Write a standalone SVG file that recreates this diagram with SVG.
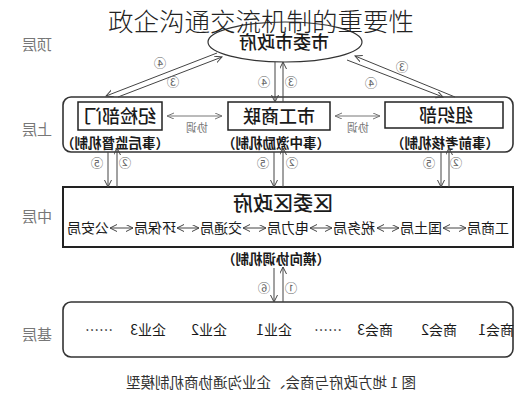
<svg xmlns="http://www.w3.org/2000/svg" width="527" height="400" viewBox="0 0 527 400">
<style>
  text { font-family: "Noto Sans CJK SC", "Noto Sans", sans-serif; }
  .box { fill: #fff; stroke: #222; stroke-width: 1.5; }
  .frame { fill: #fff; stroke: #333; stroke-width: 1.6; }
  .ln { fill: none; stroke: #444; stroke-width: 1; }
  .lng { fill: none; stroke: #777; stroke-width: 1; }
  .name { font-size: 18px; fill: #1a1a1a; text-anchor: middle; font-weight: 500; }
  .sub { font-size: 13.5px; fill: #1a1a1a; text-anchor: middle; font-weight: bold; }
  .item { font-size: 14px; fill: #1a1a1a; text-anchor: middle; }
  .lvl { font-size: 15px; fill: #777; text-anchor: middle; }
  .num { font-size: 12.5px; fill: #666; text-anchor: middle; }
  .xt { font-size: 11px; fill: #777; text-anchor: middle; }
</style>
<defs>
  <marker id="ah" markerUnits="userSpaceOnUse" markerWidth="9" markerHeight="8" refX="7" refY="3.5" orient="auto-start-reverse">
    <path d="M0,0 L7,3.5 L0,7" fill="none" stroke="#444" stroke-width="1"/>
  </marker>
  <marker id="ahg" markerUnits="userSpaceOnUse" markerWidth="9" markerHeight="8" refX="7" refY="3" orient="auto-start-reverse">
    <path d="M0,0 L7,3 L0,6" fill="none" stroke="#777" stroke-width="1"/>
  </marker>
</defs>
<rect width="527" height="400" fill="#fff"/>

<g id="level-labels">
  <text class="lvl" x="37" y="50" transform="matrix(-1 0 0 1 74 0)">顶层</text>
  <text class="lvl" x="37" y="135" transform="matrix(-1 0 0 1 74 0)">上层</text>
  <text class="lvl" x="37" y="222" transform="matrix(-1 0 0 1 74 0)">中层</text>
  <text class="lvl" x="37" y="340" transform="matrix(-1 0 0 1 74 0)">基层</text>
</g>

<g id="top-node">
  <ellipse cx="285" cy="42" rx="77" ry="20" fill="#fff" stroke="#333" stroke-width="1.2"/>
  <text class="name" x="284" y="49" font-size="19" font-weight="bold" transform="matrix(-1 0 0 1 568 0)">市委市政府</text>
</g>

<g id="upper-node">
  <rect class="frame" x="63" y="97" width="450" height="55" rx="8"/>
  <g id="jijian">
    <rect class="box" x="78" y="102" width="84" height="28"/>
    <text class="name" x="120" y="123" transform="matrix(-1 0 0 1 240 0)">纪检部门</text>
    <text class="sub" x="115" y="148" transform="matrix(-1 0 0 1 230 0)">（事后监督机制）</text>
  </g>
  <g id="gongshanglian">
    <rect class="box" x="228" y="102" width="102" height="28"/>
    <text class="name" x="279" y="123" transform="matrix(-1 0 0 1 558 0)">市工商联</text>
    <text class="sub" x="276" y="148" transform="matrix(-1 0 0 1 552 0)">（事中激励机制）</text>
  </g>
  <g id="zuzhibu">
    <rect class="box" x="385" y="102" width="118" height="26"/>
    <text class="name" x="446" y="122" transform="matrix(-1 0 0 1 892 0)">组织部</text>
    <text class="sub" x="445" y="148" transform="matrix(-1 0 0 1 890 0)">（事前考核机制）</text>
  </g>
  <line class="lng" x1="167" y1="116" x2="222" y2="116" marker-start="url(#ahg)" marker-end="url(#ahg)"/>
  <line class="lng" x1="335" y1="116" x2="380" y2="116" marker-start="url(#ahg)" marker-end="url(#ahg)"/>
  <text class="xt" x="197" y="132" transform="matrix(-1 0 0 1 394 0)">协调</text>
  <text class="xt" x="358" y="132" transform="matrix(-1 0 0 1 716 0)">协调</text>
</g>

<g id="middle-node">
  <rect x="63" y="187" width="450" height="60" fill="#fff" stroke="#222" stroke-width="2"/>
  <text x="283" y="211" font-size="20" fill="#1a1a1a" text-anchor="middle" font-weight="500" transform="matrix(-1 0 0 1 566 0)">区委区政府</text>
  <text class="item" x="88" y="233" transform="matrix(-1 0 0 1 176 0)">公安局</text>
  <text class="item" x="155" y="233" transform="matrix(-1 0 0 1 310 0)">环保局</text>
  <text class="item" x="221" y="233" transform="matrix(-1 0 0 1 442 0)">交通局</text>
  <text class="item" x="288" y="233" transform="matrix(-1 0 0 1 576 0)">电力局</text>
  <text class="item" x="354" y="233" transform="matrix(-1 0 0 1 708 0)">税务局</text>
  <text class="item" x="421" y="233" transform="matrix(-1 0 0 1 842 0)">国土局</text>
  <text class="item" x="488" y="233" transform="matrix(-1 0 0 1 976 0)">工商局</text>
  <g class="ln">
    <line x1="110" y1="228" x2="133" y2="228" marker-start="url(#ah)" marker-end="url(#ah)"/>
    <line x1="177" y1="228" x2="199" y2="228" marker-start="url(#ah)" marker-end="url(#ah)"/>
    <line x1="243" y1="228" x2="266" y2="228" marker-start="url(#ah)" marker-end="url(#ah)"/>
    <line x1="310" y1="228" x2="332" y2="228" marker-start="url(#ah)" marker-end="url(#ah)"/>
    <line x1="377" y1="228" x2="399" y2="228" marker-start="url(#ah)" marker-end="url(#ah)"/>
    <line x1="443" y1="228" x2="466" y2="228" marker-start="url(#ah)" marker-end="url(#ah)"/>
  </g>
  <text class="sub" x="276" y="264" transform="matrix(-1 0 0 1 552 0)">（横向协调机制）</text>
</g>

<g id="base-node">
  <rect class="frame" x="63" y="302" width="450" height="55" rx="8"/>
  <text class="item" x="99" y="335" transform="matrix(-1 0 0 1 198 0)">……</text>
  <text class="item" x="148" y="335" transform="matrix(-1 0 0 1 296 0)">企业3</text>
  <text class="item" x="209" y="335" transform="matrix(-1 0 0 1 418 0)">企业2</text>
  <text class="item" x="274" y="335" transform="matrix(-1 0 0 1 548 0)">企业1</text>
  <text class="item" x="328" y="335" transform="matrix(-1 0 0 1 656 0)">……</text>
  <text class="item" x="375" y="335" transform="matrix(-1 0 0 1 750 0)">商会3</text>
  <text class="item" x="439" y="335" transform="matrix(-1 0 0 1 878 0)">商会2</text>
  <text class="item" x="496" y="335" transform="matrix(-1 0 0 1 992 0)">商会1</text>
</g>

<g id="connectors">
  <g class="ln">
    <line x1="217" y1="53" x2="106" y2="96" marker-end="url(#ah)"/>
    <line x1="118" y1="97" x2="222" y2="57" marker-end="url(#ah)"/>
    <line x1="275" y1="62" x2="275" y2="102" marker-end="url(#ah)"/>
    <line x1="283" y1="102" x2="283" y2="62" marker-end="url(#ah)"/>
    <line x1="455" y1="97" x2="355" y2="56" marker-end="url(#ah)"/>
    <line x1="347" y1="60" x2="443" y2="97" marker-end="url(#ah)"/>
    <line x1="108" y1="152" x2="108" y2="187" marker-end="url(#ah)"/>
    <line x1="117" y1="187" x2="117" y2="148" marker-end="url(#ah)"/>
    <line x1="274" y1="152" x2="274" y2="187" marker-end="url(#ah)"/>
    <line x1="283" y1="187" x2="283" y2="148" marker-end="url(#ah)"/>
    <line x1="441" y1="152" x2="441" y2="187" marker-end="url(#ah)"/>
    <line x1="449" y1="187" x2="449" y2="148" marker-end="url(#ah)"/>
    <line x1="274" y1="268" x2="274" y2="302" marker-end="url(#ah)"/>
    <line x1="283" y1="302" x2="283" y2="267" marker-end="url(#ah)"/>
  </g>
  <text class="num" x="160" y="68" transform="matrix(-1 0 0 1 320 0)">④</text>
  <text class="num" x="173" y="87" transform="matrix(-1 0 0 1 346 0)">③</text>
  <text class="num" x="264" y="87" transform="matrix(-1 0 0 1 528 0)">④</text>
  <text class="num" x="291" y="87" transform="matrix(-1 0 0 1 582 0)">③</text>
  <text class="num" x="402" y="72" transform="matrix(-1 0 0 1 804 0)">③</text>
  <text class="num" x="371" y="88" transform="matrix(-1 0 0 1 742 0)">④</text>
  <text class="num" x="97" y="168" transform="matrix(-1 0 0 1 194 0)">⑤</text>
  <text class="num" x="125" y="168" transform="matrix(-1 0 0 1 250 0)">②</text>
  <text class="num" x="263" y="168" transform="matrix(-1 0 0 1 526 0)">⑤</text>
  <text class="num" x="292" y="168" transform="matrix(-1 0 0 1 584 0)">②</text>
  <text class="num" x="429" y="168" transform="matrix(-1 0 0 1 858 0)">⑤</text>
  <text class="num" x="456" y="168" transform="matrix(-1 0 0 1 912 0)">②</text>
  <text class="num" x="264" y="293" transform="matrix(-1 0 0 1 528 0)">⑥</text>
  <text class="num" x="291" y="293" transform="matrix(-1 0 0 1 582 0)">①</text>
</g>

<g id="caption">
  <text x="271" y="388" font-size="14.5" fill="#333" text-anchor="middle" transform="matrix(-1 0 0 1 542 0)">图 1  地方政府与商会、企业沟通协商机制模型</text>
</g>

<g id="title">
  <text x="261" y="31" font-size="25.5" fill="#222" text-anchor="middle" font-weight="300">政企沟通交流机制的重要性</text>
</g>
</svg>
